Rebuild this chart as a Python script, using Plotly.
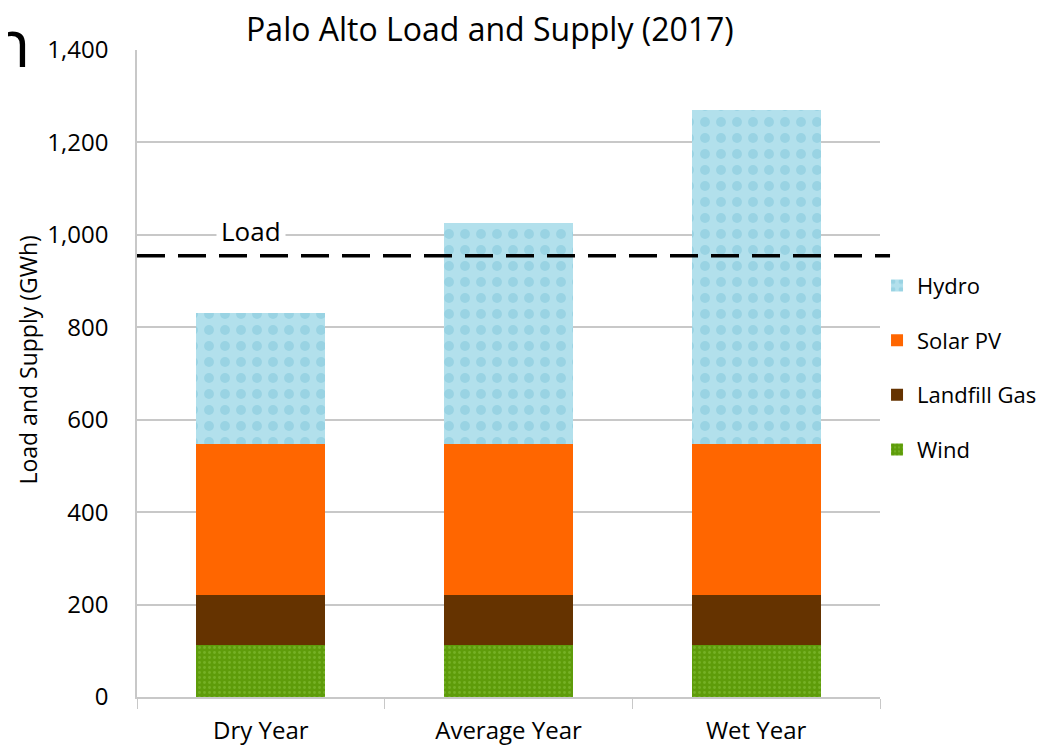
import plotly.graph_objects as go

categories = ["Dry Year", "Average Year", "Wet Year"]
wind = [113, 113, 113]
landfill_gas = [108, 108, 108]
solar_pv = [326, 326, 326]
hydro = [284, 479, 723]
load = 955
y_ticks = [0, 200, 400, 600, 800, 1000, 1200, 1400]
y_tick_labels = ["0", "200", "400", "600", "800", "1,000", "1,200", "1,400"]

FONT = "Open Sans"

fig = go.Figure()
fig.add_trace(go.Bar(name="Wind", x=categories, y=wind, legendgroup="w", legendrank=4,
                     marker=dict(color="#5e9c0a", line=dict(width=0),
                                 pattern=dict(shape=".", fgcolor="#8cc63f", size=5, solidity=0.25))))
fig.add_trace(go.Bar(name="Landfill Gas", x=categories, y=landfill_gas, legendgroup="l", legendrank=3,
                     marker=dict(color="#653300", line=dict(width=0))))
fig.add_trace(go.Bar(name="Solar PV", x=categories, y=solar_pv, legendgroup="s", legendrank=2,
                     marker=dict(color="#ff6600", line=dict(width=0))))
fig.add_trace(go.Bar(name="Hydro", x=categories, y=hydro, legendgroup="h", legendrank=1,
                     marker=dict(color="#b2e0ec", line=dict(width=0),
                                 pattern=dict(shape=".", fgcolor="#80c5da", size=16, solidity=0.3))))

fig.add_shape(type="line", xref="paper", yref="y", x0=0, x1=1.0135, y0=load, y1=load,
              line=dict(color="black", width=3.5, dash="28px,13px"))

fig.add_annotation(text="Load", xref="paper", yref="y", x=0.106, y=1008, showarrow=False,
                   xanchor="left", bgcolor="white", font=dict(family=FONT, size=26, color="black"),
                   borderpad=4)
fig.add_annotation(text="n", xref="paper", yref="paper", x=-0.141, y=1.086, showarrow=False,
                   xanchor="right", yanchor="top", font=dict(family=FONT, size=66, color="black"))
fig.add_annotation(text="Load and Supply (GWh)", xref="paper", yref="paper", x=-0.1467, y=0.52,
                   showarrow=False, textangle=-90, xanchor="center", yanchor="middle",
                   font=dict(family=FONT, size=23, color="black"))

fig.update_layout(
    width=1050, height=747,
    barmode="stack", bargap=0.48,
    paper_bgcolor="white", plot_bgcolor="white",
    margin=dict(l=129, r=178, t=42, b=58, autoexpand=False),
    title=dict(text="Palo Alto Load and Supply (2017)", x=0.459, xanchor="center",
               y=0.971, yanchor="middle",
               font=dict(family=FONT, size=32, color="black")),
    font=dict(family=FONT, size=18, color="black"),
    legend=dict(x=0.996, y=0.668, xanchor="left", yanchor="top", traceorder="grouped",
                font=dict(family=FONT, size=22, color="black"), tracegroupgap=23,
                itemsizing="constant", bgcolor="rgba(0,0,0,0)", itemwidth=30),
    showlegend=True,
)
fig.update_yaxes(range=[0, 1400], tickvals=y_ticks, ticktext=y_tick_labels,
                 showgrid=True, gridcolor="#c8c8c8", gridwidth=1.5,
                 showline=True, linecolor="#c8c8c8", linewidth=1.5,
                 zeroline=False, ticks="", ticklabelstandoff=22, automargin=False,
                 tickfont=dict(family=FONT, size=24))
fig.update_xaxes(range=[-0.5, 2.5], showline=True, linecolor="#c8c8c8", linewidth=1.5,
                 ticks="outside", tickcolor="#c8c8c8", ticklen=10, tickson="boundaries",
                 showgrid=False, tickfont=dict(family=FONT, size=24), ticklabelstandoff=11,
                 automargin=False)

fig.write_html("out.html")
